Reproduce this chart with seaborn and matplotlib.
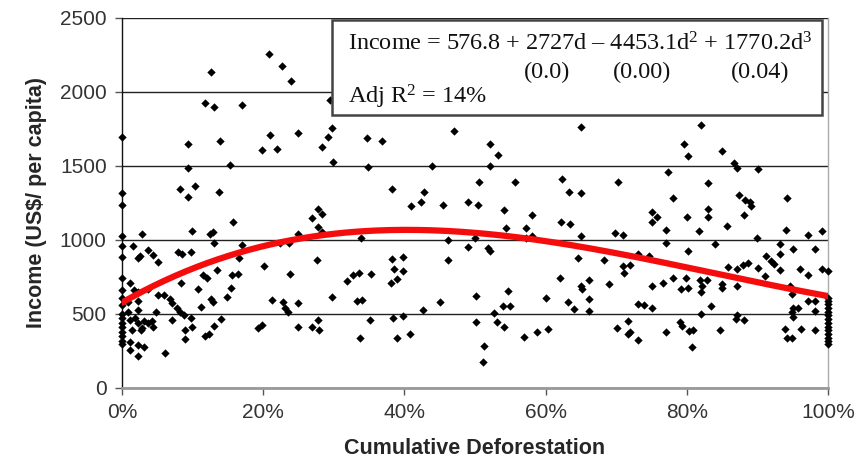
import numpy as np
import pandas as pd
import matplotlib
matplotlib.use("Agg")
import matplotlib.pyplot as plt
import seaborn as sns
import matplotlib.ticker as ticker
from matplotlib.patches import Rectangle

# --- data --------------------------------------------------------------
# points sitting on the 0% axis
edge0_income = [1696, 1317, 1236, 1027, 957, 885, 743, 662, 608, 561,
                500, 470, 440, 410, 380, 350, 320, 300]

# 0-16 %
defor_a = [0.126, 0.118, 0.130, 0.094, 0.139, 0.153, 0.094, 0.082, 0.094, 0.103,
           0.137, 0.157, 0.028, 0.099, 0.125, 0.129, 0.130, 0.016, 0.023, 0.025,
           0.037, 0.044, 0.051, 0.079, 0.085, 0.098, 0.135, 0.156, 0.011, 0.017,
           0.023, 0.037, 0.051, 0.059, 0.084, 0.108, 0.115, 0.120, 0.126, 0.129,
           0.149, 0.154, 0.068, 0.071, 0.112, 0.008, 0.023, 0.023, 0.008, 0.048,
           0.078, 0.082, 0.088, 0.098, 0.099, 0.071, 0.140, 0.130, 0.089, 0.089,
           0.118, 0.123, 0.011, 0.018, 0.014, 0.011, 0.023, 0.028, 0.031, 0.037,
           0.042, 0.044, 0.027, 0.011, 0.023, 0.031, 0.023, 0.061]
income_a = [2137, 1926, 1899, 1649, 1669, 1507, 1486, 1345, 1290, 1365,
            1324, 1122, 1040, 1061, 1040, 1054, 980, 959, 878, 892,
            932, 899, 851, 919, 905, 919, 797, 763, 709, 662,
            649, 669, 628, 628, 709, 669, 763, 743, 601, 581,
            615, 676, 601, 574, 547, 581, 588, 527, 513, 513,
            540, 513, 493, 473, 412, 459, 466, 419, 392, 331,
            351, 365, 459, 473, 392, 311, 439, 405, 453, 439,
            453, 412, 392, 257, 291, 277, 216, 236]

# 16-34 %
defor_b = [0.208, 0.227, 0.239, 0.170, 0.295, 0.210, 0.249, 0.198, 0.220, 0.283,
           0.292, 0.297, 0.299, 0.278, 0.283, 0.269, 0.278, 0.283, 0.249, 0.170,
           0.166, 0.224, 0.237, 0.276, 0.201, 0.164, 0.238, 0.319, 0.327, 0.336,
           0.212, 0.228, 0.231, 0.235, 0.249, 0.297, 0.333, 0.193, 0.198, 0.249,
           0.269, 0.278, 0.279, 0.337]
income_b = [2257, 2176, 2075, 1912, 1946, 1709, 1723, 1608, 1615, 1628,
            1696, 1757, 1527, 1209, 1176, 1149, 1088, 1054, 1040, 966,
            878, 980, 980, 865, 824, 770, 770, 723, 763, 777,
            595, 581, 540, 513, 574, 615, 588, 405, 426, 412,
            412, 459, 392, 338]

# 34-51 %
defor_c = [0.347, 0.368, 0.470, 0.348, 0.439, 0.506, 0.382, 0.428, 0.424, 0.409,
           0.455, 0.490, 0.504, 0.338, 0.462, 0.490, 0.500, 0.462, 0.382, 0.398,
           0.385, 0.398, 0.389, 0.381, 0.353, 0.340, 0.450, 0.501, 0.426, 0.384,
           0.398, 0.351, 0.501, 0.390, 0.408]
income_c = [1689, 1669, 1737, 1493, 1500, 1392, 1345, 1324, 1257, 1230,
            1236, 1257, 1236, 1014, 1000, 953, 1014, 865, 872, 885,
            804, 790, 736, 709, 770, 595, 581, 622, 527, 473,
            486, 459, 446, 338, 365]

# 51-67 %
defor_d = [0.650, 0.521, 0.533, 0.521, 0.557, 0.623, 0.633, 0.650, 0.541, 0.581,
           0.544, 0.572, 0.622, 0.635, 0.581, 0.572, 0.650, 0.518, 0.521, 0.646,
           0.620, 0.661, 0.650, 0.651, 0.547, 0.540, 0.550, 0.600, 0.632, 0.640,
           0.661, 0.661, 0.527, 0.531, 0.541, 0.569, 0.588, 0.603, 0.513, 0.511]
income_d = [1764, 1649, 1574, 1500, 1392, 1412, 1324, 1317, 1203, 1169,
            1081, 1081, 1122, 1108, 1027, 1014, 1027, 946, 926, 878,
            743, 730, 689, 669, 655, 554, 554, 608, 581, 534,
            601, 520, 507, 446, 412, 345, 378, 399, 284, 176]

# 67-85 %
defor_e = [0.820, 0.796, 0.802, 0.773, 0.703, 0.830, 0.781, 0.751, 0.751, 0.758,
           0.800, 0.830, 0.830, 0.771, 0.698, 0.710, 0.817, 0.771, 0.840, 0.802,
           0.683, 0.731, 0.746, 0.710, 0.720, 0.711, 0.781, 0.792, 0.799, 0.802,
           0.819, 0.822, 0.829, 0.820, 0.690, 0.751, 0.766, 0.731, 0.739, 0.751,
           0.834, 0.820, 0.701, 0.717, 0.720, 0.717, 0.731, 0.771, 0.790, 0.793,
           0.803, 0.809, 0.807, 0.847]
income_e = [1777, 1649, 1568, 1460, 1392, 1385, 1284, 1189, 1122, 1155,
            1155, 1209, 1155, 1068, 1047, 1034, 1061, 980, 973, 926,
            865, 905, 892, 824, 831, 777, 743, 669, 743, 676,
            730, 689, 730, 649, 703, 689, 709, 568, 561, 540,
            554, 500, 405, 453, 378, 365, 324, 378, 446, 419,
            385, 392, 277, 392]

# 85-100 %
defor_f = [0.850, 0.867, 0.871, 0.901, 0.874, 0.882, 0.890, 0.891, 0.881, 0.942,
           0.857, 0.899, 0.940, 0.972, 0.992, 0.932, 0.932, 0.950, 0.982, 0.912,
           0.919, 0.924, 0.887, 0.880, 0.871, 0.858, 0.901, 0.932, 0.960, 0.972,
           0.992, 1.000, 0.911, 0.850, 0.850, 0.871, 0.946, 0.949, 0.972, 0.982,
           0.982, 0.950, 0.958, 0.949, 0.950, 0.871, 0.870, 0.881, 0.939, 0.942,
           0.949, 0.962, 0.982]
income_f = [1601, 1520, 1486, 1480, 1304, 1270, 1257, 1230, 1169, 1284,
            1095, 1014, 1068, 1034, 1061, 973, 905, 939, 939, 892,
            858, 838, 845, 831, 804, 818, 811, 797, 804, 763,
            804, 790, 757, 703, 676, 689, 689, 635, 588, 588,
            520, 540, 540, 513, 480, 493, 466, 459, 399, 338,
            338, 399, 392]

# points sitting on the 100% edge
edge1_income = [610, 590, 565, 540, 515, 490, 465, 440, 415, 390, 365, 340, 315, 295]

# fitted cubic shown in the box (constant, d, d^2, d^3)
fit_coef = [576.8, 2727.0, -4453.1, 1770.2]
fit_pvalues = ["(0.0)", "(0.00)", "(0.04)"]
adj_r2 = "14%"

# --- build table --------------------------------------------------------
df = pd.DataFrame({
    "deforestation": [0.0] * len(edge0_income) + defor_a + defor_b + defor_c
                     + defor_d + defor_e + defor_f + [1.0] * len(edge1_income),
    "income": edge0_income + income_a + income_b + income_c + income_d
              + income_e + income_f + edge1_income,
})

d_grid = np.linspace(0, 1, 201)
df_fit = pd.DataFrame({"deforestation": d_grid,
                       "income": np.polyval(fit_coef[::-1], d_grid)})

# --- plot ---------------------------------------------------------------
sns.set_style("white")
plt.rcParams["font.family"] = ["Liberation Sans", "DejaVu Sans"]
plt.rcParams["mathtext.fontset"] = "custom"
plt.rcParams["mathtext.rm"] = "Liberation Serif"
plt.rcParams["mathtext.it"] = "Liberation Serif:italic"
plt.rcParams["mathtext.default"] = "regular"

fig = plt.figure(figsize=(8.59, 4.65), dpi=100)
ax = fig.add_axes([0.142, 0.1656, 0.822, 0.7957])

ax.yaxis.grid(True, color="#222222", lw=1.0, zorder=0)
ax.set_axisbelow(True)

sns.scatterplot(data=df, x="deforestation", y="income", marker="D", s=18,
                color="black", linewidth=0, clip_on=False, zorder=3, ax=ax)
sns.lineplot(data=df_fit, x="deforestation", y="income", color="#f50d0d",
             lw=4.5, zorder=4, ax=ax)

ax.set_xlim(0, 1)
ax.set_ylim(0, 2500)
ax.yaxis.set_major_locator(ticker.MultipleLocator(500))
ax.xaxis.set_major_locator(ticker.MultipleLocator(0.2))
ax.xaxis.set_major_formatter(ticker.PercentFormatter(xmax=1, decimals=0))

ax.tick_params(axis="both", labelsize=15, labelcolor="#333333",
               direction="out", length=5, width=1, color="#555555", pad=6)
ax.xaxis.set_ticks_position("bottom")
ax.yaxis.set_ticks_position("left")

ax.spines["left"].set_color("#111111")
ax.spines["left"].set_linewidth(1.0)
ax.spines["bottom"].set_color("#999999")
ax.spines["bottom"].set_linewidth(2.0)
ax.spines["right"].set_color("#aaaaaa")
ax.spines["right"].set_linewidth(1.0)
ax.spines["top"].set_visible(False)

ax.set_xlabel("Cumulative Deforestation", fontsize=15.5, fontweight="bold")
ax.set_ylabel("Income (US$/ per capita)", fontsize=15.5, fontweight="bold")
ax.xaxis.set_label_coords(0.5, -0.135)
ax.yaxis.set_label_coords(-0.106, 0.5)

# equation box
ax.add_patch(Rectangle((0.297, 0.738), 0.695, 0.257, transform=ax.transAxes,
                       facecolor="white", edgecolor="#444444", lw=1.8,
                       zorder=5, clip_on=False))
serif = dict(family=["Liberation Serif", "DejaVu Serif"], fontsize=17.5,
             color="#111111", zorder=6, transform=ax.transAxes)
ax.text(0.320, 0.911,
        "Income = 576.8 + 2727d \u2013 4453.1d$^{2}$ + 1770.2d$^{3}$",
        ha="left", va="baseline", **serif)
for xp, pv in zip([0.602, 0.737, 0.904], fit_pvalues):
    ax.text(xp, 0.854, pv, ha="center", va="center", **serif)
ax.text(0.320, 0.770, f"Adj R$^{{2}}$ = {adj_r2}", ha="left", va="baseline", **serif)

plt.savefig("out.png", dpi=100)
